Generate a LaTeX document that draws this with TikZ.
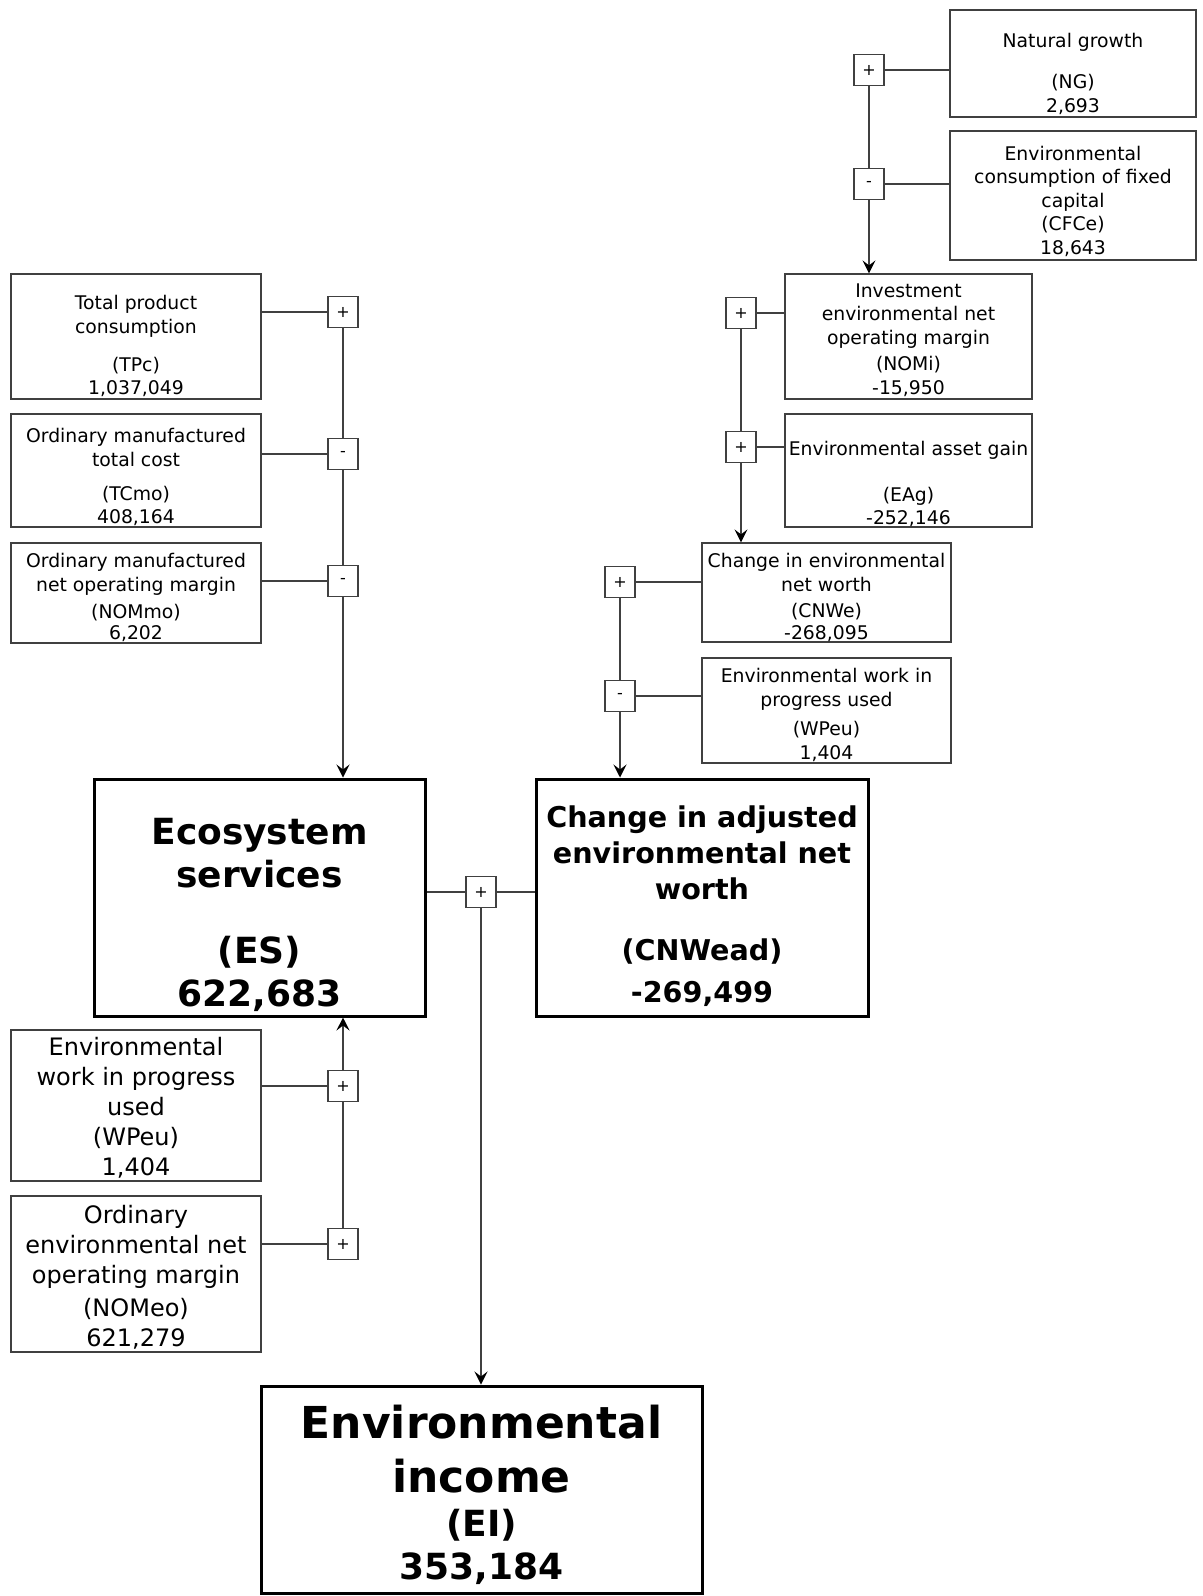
\documentclass[tikz,border=0pt]{standalone}
\usepackage{fontspec}
\setmainfont{DejaVu Sans}
\usetikzlibrary{arrows.meta}

\definecolor{linegray}{HTML}{404040}

\tikzset{
    infobox/.style={draw=linegray, line width=0.6pt, inner sep=0pt},
    mainbox/.style={draw=black, line width=1.5pt, inner sep=0pt},
    signbox/.style={draw=linegray, line width=0.6pt, fill=white, inner sep=0pt,
        minimum width=15pt, minimum height=15.5pt, font=\fontsize{8}{9}\selectfont},
    smalltext/.style={align=center, inner sep=0pt, font=\fontsize{9.4}{11.75}\selectfont},
    midtext/.style={align=center, inner sep=0pt, font=\fontsize{12}{15}\selectfont},
    link/.style={draw=linegray, line width=0.6pt},
    flow/.style={link, -{Stealth[length=6.5pt, width=6.5pt, inset=2.5pt, black]}},
}

\begin{document}
\begin{tikzpicture}[x=0.5pt, y=-0.5pt]

    \useasboundingbox (0,0) rectangle (1203,1596);

    % Natural growth (NG)
    \node[infobox, minimum width=123pt, minimum height=53.5pt] (ngbox) at (1073,63.5) {};
    \node[smalltext] (ngtext) at (1073,74) {Natural growth\\[8.75pt](NG)\\2,693};
    \node[signbox] (signNG) at (869,70) {+};

    % Environmental consumption of fixed capital (CFCe)
    \node[infobox, minimum width=123pt, minimum height=64.5pt] (cfcebox) at (1073,195.5) {};
    \node[smalltext] (cfcetext) at (1073,201) {Environmental\\consumption of fixed\\capital\\(CFCe)\\18,643};
    \node[signbox] (signCFCe) at (869,184) {-};

    % Investment environmental net operating margin (NOMi)
    \node[infobox, minimum width=123.5pt, minimum height=62.5pt] (nomibox) at (908.5,336.5) {};
    \node[smalltext] (nomitext) at (908.5,340) {Investment\\environmental net\\operating margin\\[1.5pt](NOMi)\\-15,950};
    \node[signbox] (signNOMi) at (741,313) {+};

    % Environmental asset gain (EAg)
    \node[infobox, minimum width=123.5pt, minimum height=56.5pt] (eagbox) at (908.5,470.5) {};
    \node[smalltext] (eagtext) at (908.5,484) {Environmental asset gain\\[11.25pt](EAg)\\-252,146};
    \node[signbox] (signEAg) at (741,447) {+};

    % Change in environmental net worth (CNWe)
    \node[infobox, minimum width=124.5pt, minimum height=49.5pt] (cnwebox) at (826.5,592.5) {};
    \node[smalltext] (cnwetext) at (826.5,597.5) {Change in environmental\\net worth\\[1.5pt](CNWe)\\[-1pt]-268,095};
    \node[signbox] (signCNWe) at (620,582) {+};

    % Environmental work in progress used (WPeu), right
    \node[infobox, minimum width=124.5pt, minimum height=52.5pt] (wpeurbox) at (826.5,710.5) {};
    \node[smalltext] (wpeurtext) at (826.5,715) {Environmental work in\\progress used\\[3pt](WPeu)\\1,404};
    \node[signbox] (signWPeuR) at (620,696) {-};

    % Total product consumption (TPc)
    \node[infobox, minimum width=125pt, minimum height=62.5pt] (tpcbox) at (136,336.5) {};
    \node[smalltext] (tpctext) at (136,346) {Total product\\consumption\\[7.25pt](TPc)\\1,037,049};
    \node[signbox] (signTPc) at (343,312) {+};

    % Ordinary manufactured total cost (TCmo)
    \node[infobox, minimum width=125pt, minimum height=56.5pt] (tcmobox) at (136,470.5) {};
    \node[smalltext] (tcmotext) at (136,477) {Ordinary manufactured\\total cost\\[5.25pt](TCmo)\\408,164};
    \node[signbox] (signTCmo) at (343,454) {-};

    % Ordinary manufactured net operating margin (NOMmo)
    \node[infobox, minimum width=125pt, minimum height=50pt] (nommobox) at (136,593) {};
    \node[smalltext] (nommotext) at (136,597.5) {Ordinary manufactured\\net operating margin\\[2pt](NOMmo)\\[-1.5pt]6,202};
    \node[signbox] (signNOMmo) at (343,581) {-};

    % Environmental work in progress used (WPeu), left
    \node[infobox, minimum width=125pt, minimum height=75.5pt] (wpeulbox) at (136,1105.5) {};
    \node[midtext] (wpeultext) at (136,1108) {Environmental\\work in progress\\used\\(WPeu)\\1,404};
    \node[signbox] (signWPeuL) at (343,1086) {+};

    % Ordinary environmental net operating margin (NOMeo)
    \node[infobox, minimum width=125pt, minimum height=78pt] (nomeobox) at (136,1274) {};
    \node[midtext] (nomeotext) at (136,1277.5) {Ordinary\\environmental net\\operating margin\\[1.5pt](NOMeo)\\621,279};
    \node[signbox] (signNOMeo) at (343,1244) {+};

    % Ecosystem services (ES)
    \node[mainbox, minimum width=165.5pt, minimum height=118.5pt] (esbox) at (259.5,897.5) {};
    \node[align=center, inner sep=0pt, font=\fontsize{18}{21.5}\bfseries] (estext) at (259.5,915)
        {Ecosystem\\services\\[16.5pt](ES)\\622,683};

    % Change in adjusted environmental net worth (CNWead)
    \node[mainbox, minimum width=166pt, minimum height=118.5pt] (cnweadbox) at (702,897.5) {};
    \node[align=center, inner sep=0pt, font=\fontsize{14.3}{18}\bfseries] (cnweadtext) at (702,906)
        {Change in adjusted\\environmental net\\worth\\[12.5pt](CNWead)\\[3pt]-269,499};
    \node[signbox] (signES) at (481,892) {+};

    % Environmental income (EI)
    \node[mainbox, minimum width=220.5pt, minimum height=103.5pt] (eibox) at (481.5,1489.5) {};
    \node[align=center, inner sep=0pt, font=\fontsize{22}{27}\bfseries] (eititle) at (481.5,1449)
        {Environmental\\income};
    \node[align=center, inner sep=0pt, font=\fontsize{18}{21.5}\bfseries] (eivalue) at (481.5,1547)
        {(EI)\\353,184};

    % Right branch: NG, CFCe -> NOMi
    \draw[link] (signNG.east) -- (signNG -| ngbox.west);
    \draw[link] (signCFCe.east) -- (signCFCe -| cfcebox.west);
    \draw[link] (signNG.south) -- (signCFCe.north);
    \draw[flow] (signCFCe.south) -- (signCFCe.south |- nomibox.north);

    % NOMi, EAg -> CNWe
    \draw[link] (signNOMi.east) -- (signNOMi -| nomibox.west);
    \draw[link] (signEAg.east) -- (signEAg -| eagbox.west);
    \draw[link] (signNOMi.south) -- (signEAg.north);
    \draw[flow] (signEAg.south) -- (signEAg.south |- cnwebox.north);

    % CNWe, WPeu -> CNWead
    \draw[link] (signCNWe.east) -- (signCNWe -| cnwebox.west);
    \draw[link] (signWPeuR.east) -- (signWPeuR -| wpeurbox.west);
    \draw[link] (signCNWe.south) -- (signWPeuR.north);
    \draw[flow] (signWPeuR.south) -- (signWPeuR.south |- cnweadbox.north);

    % Left branch: TPc, TCmo, NOMmo -> ES
    \draw[link] (signTPc -| tpcbox.east) -- (signTPc.west);
    \draw[link] (signTCmo -| tcmobox.east) -- (signTCmo.west);
    \draw[link] (signNOMmo -| nommobox.east) -- (signNOMmo.west);
    \draw[link] (signTPc.south) -- (signTCmo.north);
    \draw[link] (signTCmo.south) -- (signNOMmo.north);
    \draw[flow] (signNOMmo.south) -- (signNOMmo.south |- esbox.north);

    % WPeu, NOMeo -> ES
    \draw[link] (signWPeuL -| wpeulbox.east) -- (signWPeuL.west);
    \draw[link] (signNOMeo -| nomeobox.east) -- (signNOMeo.west);
    \draw[link] (signNOMeo.north) -- (signWPeuL.south);
    \draw[flow] (signWPeuL.north) -- (signWPeuL.north |- esbox.south);

    % ES, CNWead -> EI
    \draw[link] (signES -| esbox.east) -- (signES.west);
    \draw[link] (signES.east) -- (signES -| cnweadbox.west);
    \draw[flow] (signES.south) -- (signES.south |- eibox.north);

\end{tikzpicture}
\end{document}
